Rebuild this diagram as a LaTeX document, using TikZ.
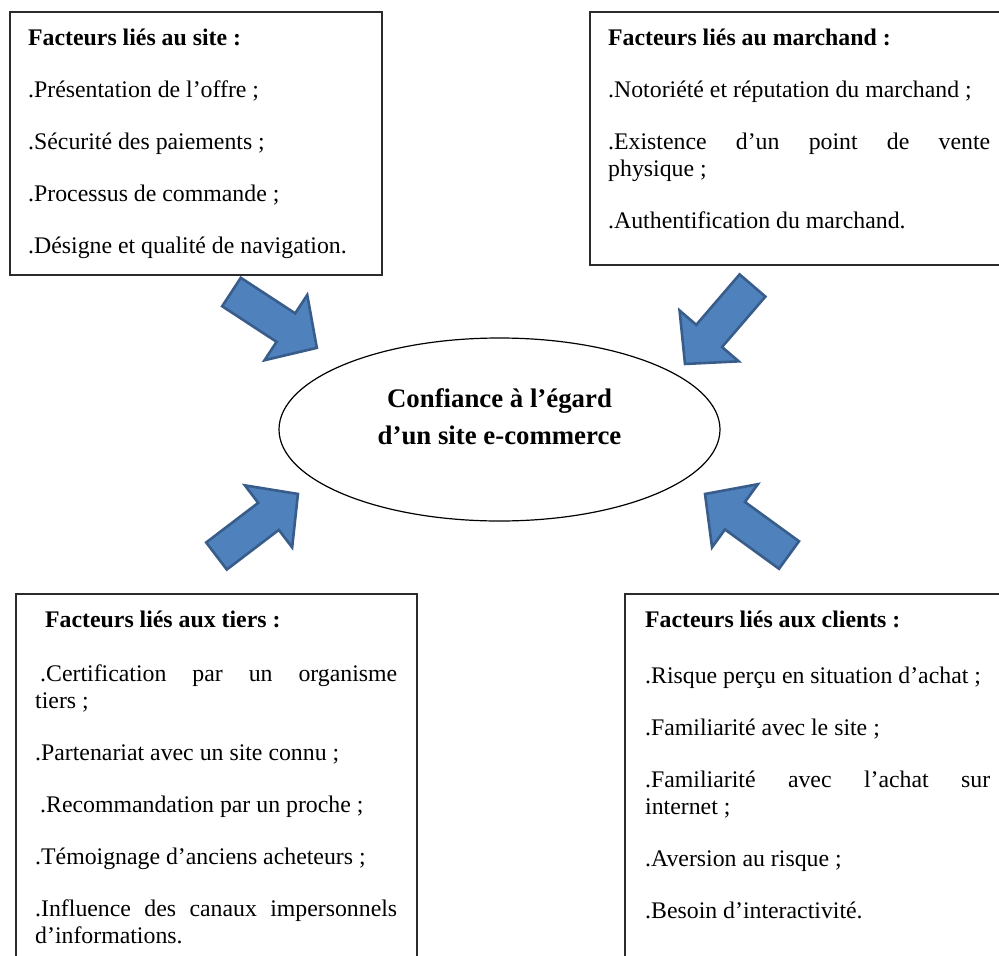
\documentclass[tikz,border=0pt]{standalone}
\usepackage{fontspec}
\setmainfont{Liberation Serif}
\usetikzlibrary{shapes.geometric}

\definecolor{arrowblue}{HTML}{4F81BD}
\definecolor{arrowedge}{HTML}{385D8A}
\definecolor{frameline}{HTML}{2B2B2B}

\tikzset{
  frame/.style={draw=frameline, line width=2pt, inner sep=0pt, outer sep=0pt, anchor=north west},
  listtext/.style={anchor=base west, inner sep=0pt, align=justify,
    font=\fontsize{23.8}{27}\selectfont},
  coreshape/.style={ellipse, draw=black, line width=1.2pt, inner sep=0pt},
  coretextstyle/.style={align=center, inner sep=0pt,
    font=\fontsize{26.8}{37}\selectfont\bfseries},
  bigarrow/.style={fill=arrowblue, draw=arrowedge, line width=2.6pt, line join=miter},
}

% block arrow: tail centre (#1,#2), direction #3 (degrees), length #4
\newcommand{\drawfatarrow}[4]{%
  \filldraw[bigarrow, shift={(#1,#2)}, rotate=#3]
    (0,-17) -- ({#4-37},-17) -- ({#4-37},-39) -- (#4,0)
    -- ({#4-37},39) -- ({#4-37},17) -- (0,17) -- cycle;}

\newcommand{\itemsetup}{\setlength{\parskip}{25pt}\hyphenpenalty=10000\exhyphenpenalty=10000}

\begin{document}
\begin{tikzpicture}[x=1pt, y=-1pt]
  \useasboundingbox (0,0) rectangle (999,956);
  \clip (0,0) rectangle (999,956);
  \fill[white] (0,0) rectangle (999,956);

  % frames of the four factor groups
  \node[frame, minimum width=372pt, minimum height=263pt] (box1) at (10,12) {};
  \node[frame, minimum width=420pt, minimum height=253pt] (box2) at (590,12) {};
  \node[frame, minimum width=401pt, minimum height=400pt] (box3) at (16,594) {};
  \node[frame, minimum width=400pt, minimum height=400pt] (box4) at (625,594) {};

  % contents
  \node[listtext, text width=337pt] (text1) at (28,45) {\itemsetup
    \textbf{Facteurs liés au site :}\par
    .Présentation de l’offre ;\par
    .Sécurité des paiements ;\par
    .Processus de commande ;\par
    .Désigne et qualité de navigation.};

  \node[listtext, text width=382pt] (text2) at (608,45) {\itemsetup
    \textbf{Facteurs liés au marchand :}\par
    .Notoriété et réputation du marchand ;\par
    .Existence d’un point de vente\linebreak physique ;\par
    .Authentification du marchand.};

  \node[listtext, text width=362pt] (text3) at (35,627) {\itemsetup
    \hspace*{10pt}\textbf{Facteurs liés aux tiers :}\par\vspace{2pt}
    \hspace*{5pt}.Certification par un organisme\linebreak tiers ;\par
    .Partenariat avec un site connu ;\par
    \hspace*{5pt}.Recommandation par un proche ;\par
    .Témoignage d’anciens acheteurs ;\par
    .Influence des canaux impersonnels\linebreak d’informations.};

  \node[listtext, text width=345pt] (text4) at (645,627) {\itemsetup
    \textbf{Facteurs liés aux clients :}\par\vspace{4pt}
    .Risque perçu en situation d’achat ;\par
    .Familiarité avec le site ;\par
    .Familiarité avec l’achat sur\linebreak internet ;\par
    .Aversion au risque ;\par
    .Besoin d’interactivité.};

  % central concept
  \node[coreshape, minimum width=441pt, minimum height=183pt] (core) at (499.5,429.5) {};
  \node[coretextstyle] (coretext) at ([yshift=13pt]core.center)
    {Confiance à l’égard\\d’un site e-commerce};

  % arrows pointing towards the central concept
  \drawfatarrow{231.5}{292}{-33.2}{102}
  \drawfatarrow{752.5}{285.5}{-130.7}{103.5}
  \drawfatarrow{216.5}{556}{37.3}{102.4}
  \drawfatarrow{789}{555}{144}{103.8}
\end{tikzpicture}
\end{document}
